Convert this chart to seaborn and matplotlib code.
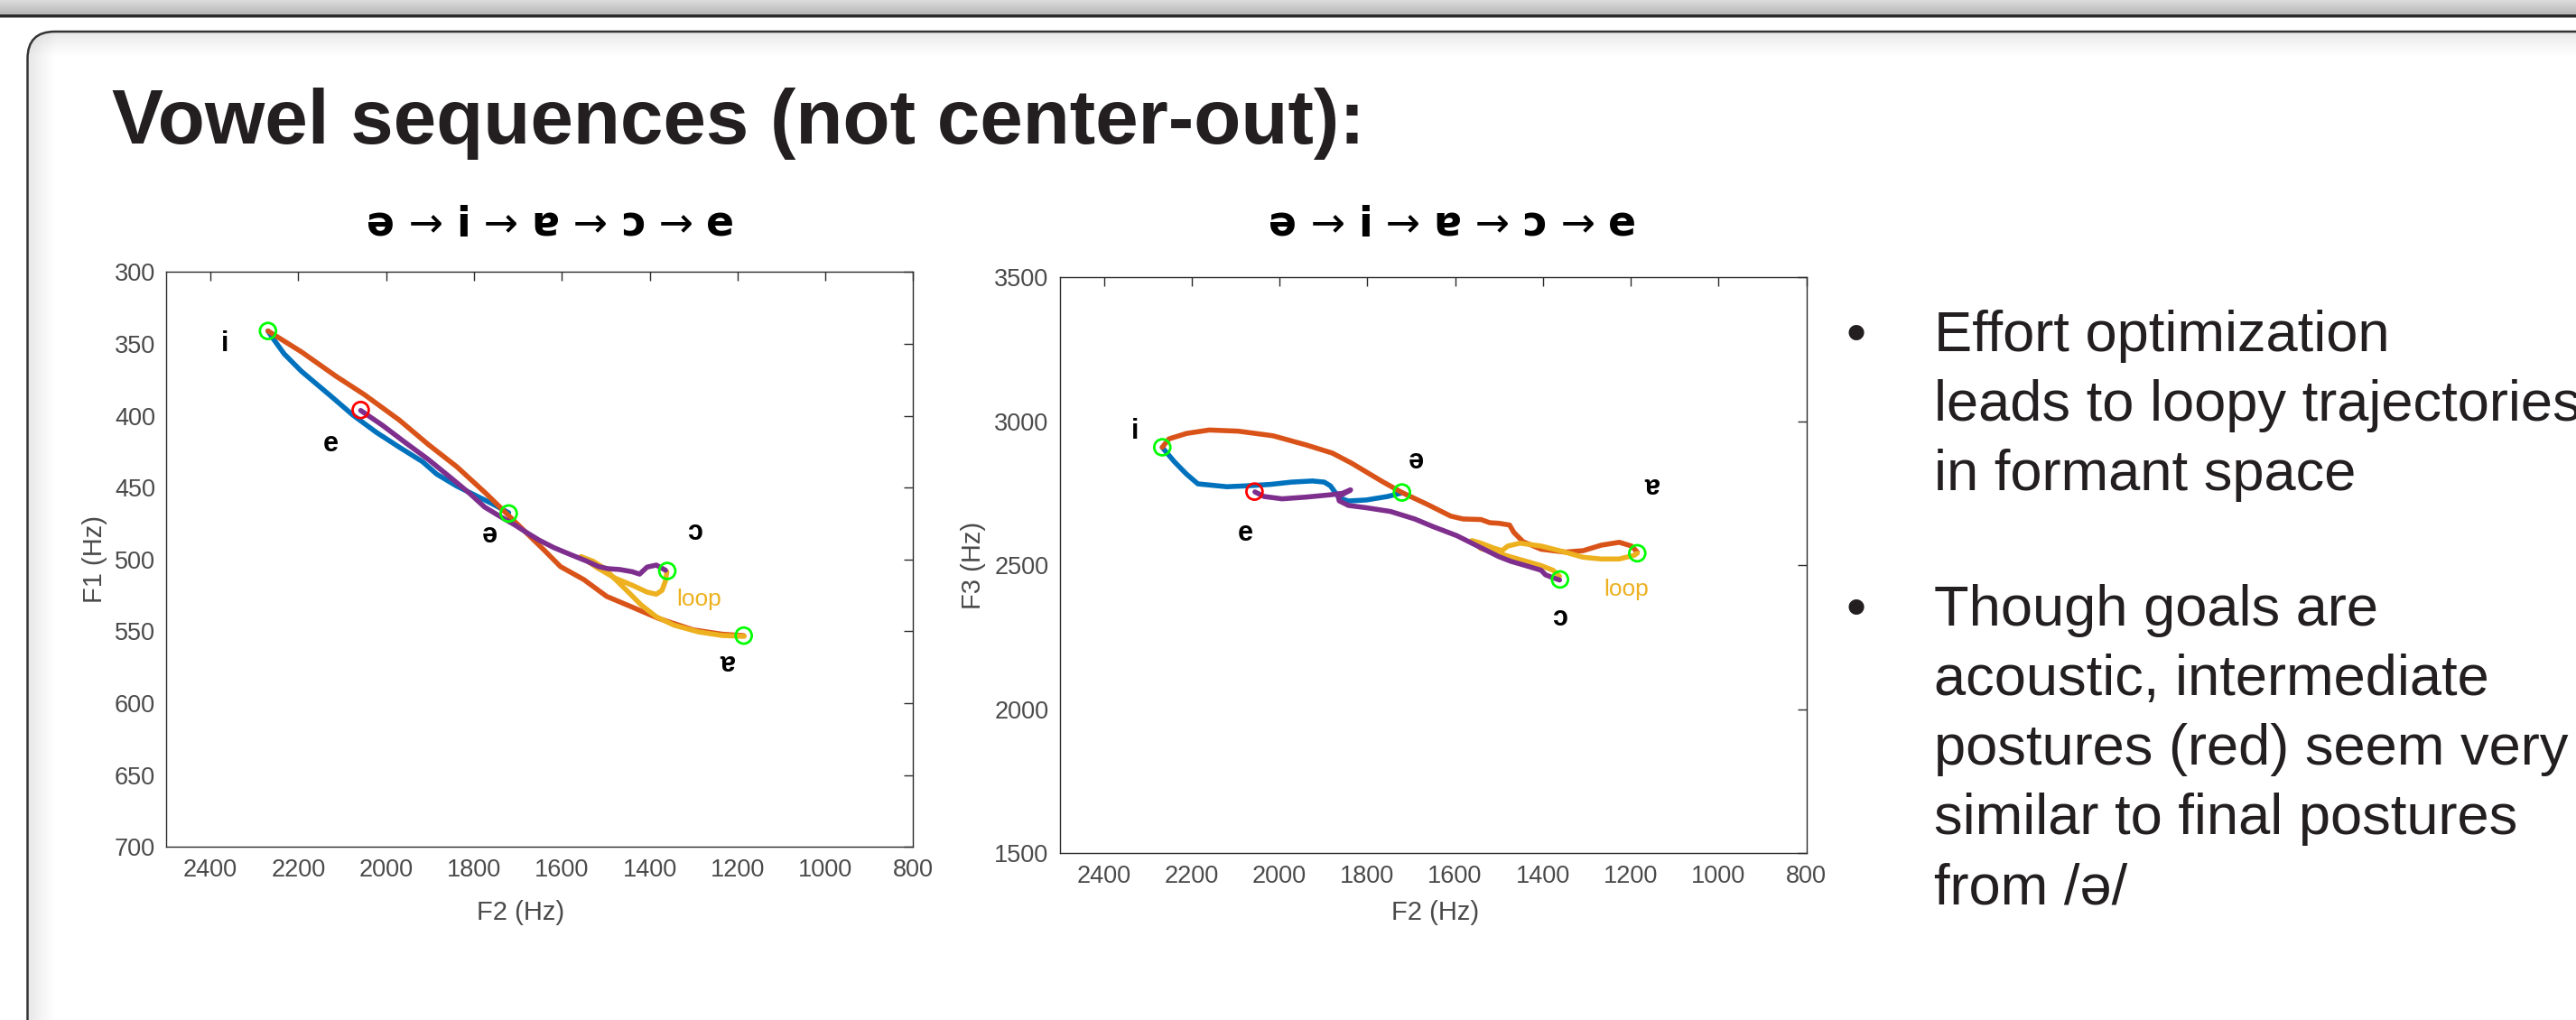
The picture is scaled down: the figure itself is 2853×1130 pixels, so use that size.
import numpy as np
import matplotlib
matplotlib.use("Agg")
import matplotlib.pyplot as plt
import seaborn as sns
from matplotlib.patches import FancyBboxPatch, Rectangle
from matplotlib.offsetbox import TextArea, HPacker, AnnotationBbox

# ---------------- data ----------------
slide_title = "Vowel sequences (not center-out):"
seq_letters = ["ə", "i", "ɐ", "ɔ", "e"]

x_ticks = [2400, 2200, 2000, 1800, 1600, 1400, 1200, 1000, 800]
f1_ticks = [300, 350, 400, 450, 500, 550, 600, 650, 700]
f3_ticks = [1500, 2000, 2500, 3000, 3500]

# left panel: F2 vs F1
blue_f2_l = [1721, 1760, 1839, 1885, 1917, 1970, 2022, 2075, 2127, 2193, 2232, 2258, 2269]
blue_f1_l = [467.5, 461, 449, 440.6, 432, 421.9, 411.6, 399.7, 386, 369, 357, 346, 341]
orange_f2_l = [2269, 2193, 2114, 2049, 1970, 1904, 1839, 1773, 1721, 1681, 1642, 1603, 1550,
               1498, 1445, 1380, 1301, 1235, 1186]
orange_f1_l = [341, 355.5, 372.5, 385.4, 403, 420, 435.5, 454, 469.5, 481.4, 493, 505, 514,
               525.7, 532.5, 541, 549, 552, 553]
yellow_f2_l = [1185, 1235, 1289, 1344, 1385, 1420, 1447, 1475, 1502, 1529, 1557,
               1522, 1481, 1440, 1406, 1385, 1372, 1364, 1361]
yellow_f1_l = [553.5, 552.9, 550.4, 545.8, 539.9, 531.5, 523.2, 514.8, 506.4, 501.2, 498,
               505.3, 512.7, 517.9, 522.7, 524.2, 521.5, 514.8, 508.5]
purple_f2_l = [1364, 1385, 1406, 1423, 1440, 1468, 1495, 1516, 1543, 1577, 1618, 1652, 1680,
               1707, 1742, 1776, 1810, 1851, 1904, 1957, 2009, 2058]
purple_f1_l = [507.5, 503.9, 505.3, 510.2, 508.5, 507, 506.4, 505, 501.2, 497, 491.8, 486.5,
               481.3, 476, 469.8, 463.5, 454, 443.6, 430.4, 418.5, 406.5, 396.3]
goal_f2_l = [2269, 1721, 1360, 1186]
goal_f1_l = [341, 468, 508, 553]
mid_f2_l = [2058]
mid_f1_l = [396]
lab_f2_l = [2367, 2126, 1764, 1297, 1222]
lab_f1_l = [350, 420, 483, 481, 573]
lab_txt_l = ["i", "e", "ə", "ɔ", "ɐ"]
loop_l = (1288, 528)

# right panel: F2 vs F3
blue_f2_r = [1720, 1754, 1802, 1843, 1864, 1874, 1884, 1898, 1925, 1973, 2021, 2076, 2120,
             2186, 2212, 2239, 2258, 2267]
blue_f3_r = [2752, 2739, 2727, 2723.5, 2734, 2755, 2776, 2789, 2793, 2789, 2781, 2776, 2773,
             2783, 2817, 2859, 2893, 2910]
orange_f2_r = [2267, 2252, 2212, 2160, 2094, 2015, 1939, 1880, 1836, 1768, 1720, 1665, 1610,
               1582, 1541, 1521, 1500, 1476, 1466, 1445, 1404, 1350, 1308, 1267, 1226, 1198, 1185]
orange_f3_r = [2910, 2939, 2958, 2970, 2966, 2950, 2918, 2890, 2855, 2793, 2752, 2713, 2671,
               2661, 2659, 2648, 2646, 2640, 2614, 2582, 2556, 2546, 2551, 2570, 2580, 2567, 2546]
yellow_f2_r = [1185, 1192, 1226, 1267, 1308, 1350, 1404, 1452, 1480, 1493, 1514, 1541, 1562,
               1541, 1500, 1452, 1404, 1377, 1362]
yellow_f3_r = [2542, 2535, 2522, 2522, 2528, 2546, 2567, 2577, 2567, 2551, 2561, 2577, 2586,
               2558, 2541, 2520, 2499, 2483, 2462]
purple_f2_r = [1362, 1377, 1394, 1404, 1439, 1473, 1500, 1541, 1596, 1651, 1692, 1747, 1802,
               1843, 1864, 1866, 1838, 1857, 1884, 1939, 1994, 2035, 2056]
purple_f3_r = [2449, 2457, 2467, 2483, 2499, 2514, 2530, 2561, 2603, 2635, 2661, 2687, 2700,
               2708, 2724, 2738, 2762, 2750, 2745, 2737, 2731, 2739, 2755]
goal_f2_r = [2267, 1721, 1361, 1185]
goal_f3_r = [2910, 2753, 2451, 2542]
mid_f2_r = [2057]
mid_f3_r = [2756]
lab_f2_r = [2330, 2078, 1690, 1152, 1362]
lab_f3_r = [2965, 2610, 2862, 2769, 2316]
lab_txt_r = ["i", "e", "ə", "ɐ", "ɔ"]
loop_r = (1210, 2416)

bullets = [
    ["Effort optimization", "leads to loopy trajectories", "in formant space"],
    ["Though goals are", "acoustic, intermediate", "postures (red) seem very",
     "similar to final postures", "from /ə/"],
]

# ---------------- style ----------------
sns.set_theme(style="white")
FONTS = ["Liberation Sans", "DejaVu Sans"]
plt.rcParams["font.family"] = FONTS

C_BLUE, C_ORANGE, C_YELLOW, C_PURPLE = "#0072BD", "#D95319", "#EDB120", "#7E2F8E"
C_GOAL, C_MID = "#00FF00", "#FF0000"
AX_COL = "#2b2b2b"
TICK_COL = "#4a4a4a"
TXT = "#231F20"

W, H = 2853, 1130
fig = plt.figure(figsize=(W / 100, H / 100), dpi=100)
fig.patch.set_facecolor("white")

# ---------------- slide decoration ----------------
bg = fig.add_axes([0, 0, 1, 1], zorder=-10)
bg.axis("off")
top = np.linspace(0.86, 0.72, 32).reshape(-1, 1)
bg.imshow(np.repeat(top, 4, axis=1), extent=[0, W, 16, 0], aspect="auto",
          cmap="gray", vmin=0, vmax=1, interpolation="bilinear")
bg.add_patch(Rectangle((0, 15.5), W, 3, color="#2a2a2a", lw=0))
bg.add_patch(Rectangle((0, 18.5), W, 1.2, color="#9a9a9a", lw=0))
frame = FancyBboxPatch((30.5, 35), 2950, 1200, boxstyle="round,pad=0,rounding_size=30",
                       fc="none", ec="#333333", lw=1.8, zorder=3)
bg.add_patch(frame)
n = 64
ramp = np.linspace(0.30, 0.0, n) ** 1.3
rgba_top = np.zeros((n, 2, 4)); rgba_top[..., :3] = 0.55; rgba_top[..., 3] = ramp[:, None]
rgba_left = np.zeros((2, n, 4)); rgba_left[..., :3] = 0.55; rgba_left[..., 3] = ramp[None, :]
im1 = bg.imshow(rgba_top, extent=[31, W, 64, 35], aspect="auto", interpolation="bilinear", zorder=2)
im2 = bg.imshow(rgba_left, extent=[31, 64, H, 35], aspect="auto", interpolation="bilinear", zorder=2)
im1.set_clip_path(frame)
im2.set_clip_path(frame)
bg.set_xlim(0, W)
bg.set_ylim(H, 0)

fig.text(124 / W, 1 - 159 / H, slide_title, fontsize=61.5, fontweight="bold",
         color=TXT, ha="left", va="baseline")

# ---------------- panels ----------------
def panel(rect, xlim, ylim, yticks, ylabel, ylab_x, xlab_x, xlab_y):
    ax = fig.add_axes(rect)
    ax.set_facecolor("white")
    ax.set_xlim(*xlim)
    ax.set_ylim(*ylim)
    ax.set_xticks(x_ticks)
    ax.set_xticklabels([str(t) for t in x_ticks])
    ax.set_yticks(yticks)
    ax.set_yticklabels([str(t) for t in yticks])
    ax.tick_params(direction="in", top=True, right=True, length=7, width=1,
                   color=AX_COL, labelcolor=TICK_COL, labelsize=19.5, pad=9)
    for s in ax.spines.values():
        s.set_visible(True)
        s.set_color(AX_COL)
        s.set_linewidth(1.0)
    ax.set_xlabel("F2 (Hz)", fontsize=21, color=TICK_COL)
    ax.set_ylabel(ylabel, fontsize=21, color=TICK_COL)
    ax.xaxis.set_label_coords(xlab_x, xlab_y)
    ax.xaxis.label.set_verticalalignment("center")
    ax.yaxis.set_label_coords(ylab_x, 0.5)
    ax.yaxis.label.set_verticalalignment("center")
    ax.grid(False)
    return ax


def draw(ax, series, goals, mid, labels, loop):
    for xs, ys, c in series:
        sns.lineplot(x=xs, y=ys, sort=False, estimator=None, color=c, linewidth=4.0,
                     ax=ax, legend=False)
    for (gx, gy), col in ((goals, C_GOAL), (mid, C_MID)):
        sns.scatterplot(x=gx, y=gy, marker="o", s=165, ax=ax, legend=False, zorder=6)
        coll = ax.collections[-1]
        coll.set_facecolor("none")
        coll.set_edgecolor(col)
        coll.set_linewidth(2.0)
    for lx, ly, t in zip(*labels):
        ax.text(lx, ly, t, fontsize=22, fontweight="bold", color="black",
                ha="center", va="center", family=FONTS)
    ax.text(loop[0], loop[1], "loop", fontsize=19, color=C_YELLOW, ha="center", va="center")


axL = panel([184.4 / W, 1 - 938.2 / H, 827.1 / W, 636.8 / H], (2500, 800), (700, 300),
            f1_ticks, "F1 (Hz)", -0.0965, 0.474, -0.115)
draw(axL,
     [(blue_f2_l, blue_f1_l, C_BLUE), (orange_f2_l, orange_f1_l, C_ORANGE),
      (yellow_f2_l, yellow_f1_l, C_YELLOW), (purple_f2_l, purple_f1_l, C_PURPLE)],
     (goal_f2_l, goal_f1_l), (mid_f2_l, mid_f1_l),
     (lab_f2_l, lab_f1_l, lab_txt_l), loop_l)

axR = panel([1174 / W, 1 - 945.3 / H, 826.5 / W, 638 / H], (2500, 800), (1500, 3500),
            f3_ticks, "F3 (Hz)", -0.1158, 0.503, -0.1036)
draw(axR,
     [(blue_f2_r, blue_f3_r, C_BLUE), (orange_f2_r, orange_f3_r, C_ORANGE),
      (yellow_f2_r, yellow_f3_r, C_YELLOW), (purple_f2_r, purple_f3_r, C_PURPLE)],
     (goal_f2_r, goal_f3_r), (mid_f2_r, mid_f3_r),
     (lab_f2_r, lab_f3_r, lab_txt_r), loop_r)

# panel titles: bold letters, thin arrows
def seq_title(cx, cy):
    parts = []
    for i, L in enumerate(seq_letters):
        parts.append(TextArea(L, textprops=dict(fontsize=33, fontweight="bold",
                                                color="black", family=["DejaVu Sans"])))
        if i < len(seq_letters) - 1:
            parts.append(TextArea(" → ", textprops=dict(fontsize=33, fontweight="normal",
                                                        color="black", family=["DejaVu Sans"])))
    box = HPacker(children=parts, align="baseline", pad=0, sep=0)
    ab = AnnotationBbox(box, (cx / W, 1 - cy / H), xycoords="figure fraction",
                        frameon=False, box_alignment=(0.5, 0.5), pad=0)
    bg.add_artist(ab)

seq_title(610, 249)
seq_title(1609, 249)

# ---------------- bullets ----------------
base1 = [389, 466, 543]
base2 = [693, 770, 847, 924, 1001]
for lines, bases in ((bullets[0], base1), (bullets[1], base2)):
    fig.text(2056 / W, 1 - bases[0] / H, "•", fontsize=45.5, color=TXT,
             ha="center", va="baseline")
    for line, b in zip(lines, bases):
        fig.text(2142.5 / W, 1 - b / H, line, fontsize=45.5, color=TXT,
                 ha="left", va="baseline")

fig.savefig("out.png", dpi=100, facecolor="white")
